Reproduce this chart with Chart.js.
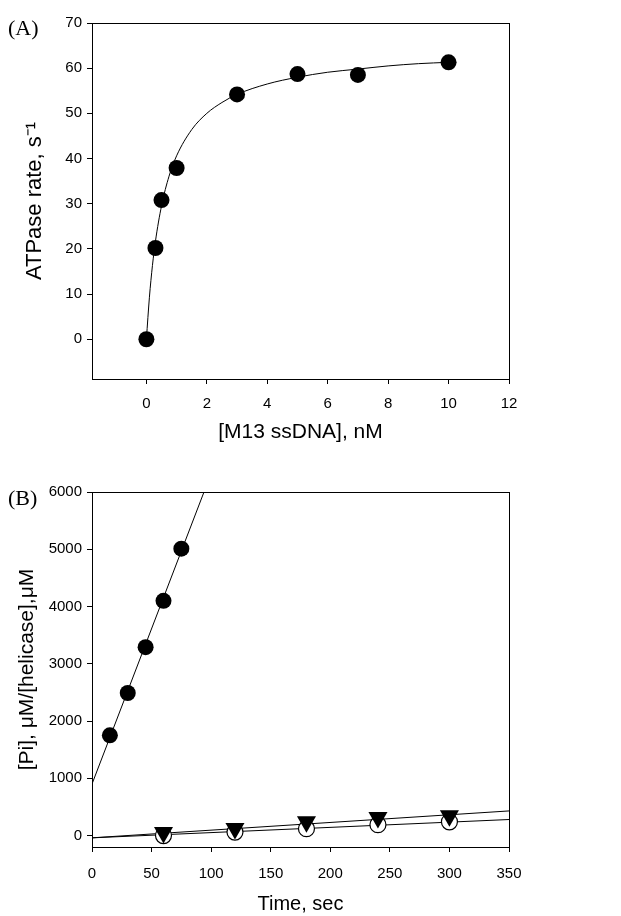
<!DOCTYPE html>
<html>
<head>
<meta charset="utf-8">
<script src="https://cdn.jsdelivr.net/npm/chart.js@4.4.1/dist/chart.umd.min.js"></script>
<style>
  html, body { margin: 0; padding: 0; background: #fff; }
  body { width: 621px; height: 916px; position: relative; overflow: hidden; }
  .panel { position: absolute; left: 0; width: 621px; }
  .tag { position: absolute; left: 8px; font: 22px/22px "Liberation Serif", serif; color: #000; }
</style>
</head>
<body>
<div class="panel" style="top:0;height:446px"><canvas id="chart-a" width="621" height="446"></canvas></div>
<div class="panel" style="top:446px;height:470px"><canvas id="chart-b" width="621" height="470"></canvas></div>
<div class="tag" style="top:17px">(A)</div>
<div class="tag" style="top:487px">(B)</div>
<script>
// (A) ATPase rate vs [M13 ssDNA]
const dnaNM = [0, 0.3, 0.5, 1, 3, 5, 7, 10];
const atpaseRate = [0, 20.2, 30.8, 37.9, 54.2, 58.7, 58.5, 61.3];
// fitted curve
const fitDnaNM = [0, 0.1, 0.2, 0.3, 0.5, 0.75, 1, 1.5, 2, 2.5, 3, 4, 5, 6, 7, 8, 9, 10];
const fitRate = [0, 9.3, 16.3, 21.7, 29.5, 36.1, 40.6, 46.4, 50.0, 52.4, 54.2, 56.5, 58.0, 59.1, 59.8, 60.5, 61.0, 61.3];
const ticksAx = [0, 2, 4, 6, 8, 10, 12];
const ticksAy = [0, 10, 20, 30, 40, 50, 60, 70];

// (B) [Pi] vs time
const timeFast = [15, 30, 45, 60, 75];
const piFast = [1750, 2490, 3290, 4100, 5010];
const timeSlow = [60, 120, 180, 240, 300];
const piTriangle = [55, 125, 240, 315, 345];
const piOpen = [0, 60, 120, 190, 240];
const fitFastT = [0, 94];
const fitFastPi = [900, 6000];
const fitSlowT = [0, 350];
const fitTrianglePi = [-40, 430];
const fitOpenPi = [-40, 280];
const ticksBx = [0, 50, 100, 150, 200, 250, 300, 350];
const ticksBy = [0, 1000, 2000, 3000, 4000, 5000, 6000];

const FONT = '"Liberation Sans", Arial, sans-serif';

const pairs = (xs, ys) => xs.map((x, i) => ({ x: x, y: ys[i] }));

const frame = {
    id: 'frame',
    afterDatasetsDraw(chart) {
        const { ctx, chartArea: a } = chart;
        ctx.save();
        ctx.strokeStyle = '#000';
        ctx.lineWidth = 1;
        ctx.strokeRect(Math.round(a.left) + 0.5, Math.round(a.top) + 0.5,
            Math.round(a.right - a.left), Math.round(a.bottom - a.top));
        ctx.restore();
    }
};

function axis(min, max, tickValues, size, title, titleSize, titlePad, tickPad) {
    return {
        type: 'linear',
        min: min,
        max: max,
        afterBuildTicks: s => { s.ticks = tickValues.map(v => ({ value: v })); },
        afterFit: s => {
            if (s.isHorizontal()) s.height = size; else s.width = size;
        },
        border: { display: false },
        grid: { drawOnChartArea: false, tickLength: 5, tickColor: '#000', lineWidth: 1 },
        ticks: {
            color: '#000',
            font: { family: FONT, size: 15 },
            padding: tickPad,
            autoSkip: false,
            maxRotation: 0,
            callback: v => String(v)
        },
        title: {
            display: true,
            text: title,
            color: '#000',
            font: { family: FONT, size: titleSize, lineHeight: 1 },
            padding: titlePad
        }
    };
}

function lineSet(xs, ys) {
    return {
        data: pairs(xs, ys),
        showLine: true,
        borderColor: '#000',
        borderWidth: 1,
        pointRadius: 0,
        cubicInterpolationMode: 'monotone'
    };
}

function baseOptions(pad, scales) {
    return {
        responsive: false,
        animation: false,
        layout: { padding: pad },
        plugins: { legend: { display: false }, tooltip: { enabled: false } },
        scales: scales
    };
}

new Chart(document.getElementById('chart-a').getContext('2d'), {
    type: 'scatter',
    data: {
        datasets: [
            {
                data: pairs(dnaNM, atpaseRate),
                pointRadius: 8,
                backgroundColor: '#000',
                borderColor: '#000',
                borderWidth: 0
            },
            lineSet(fitDnaNM, fitRate)
        ]
    },
    options: baseOptions({ top: 23, right: 112, left: 0, bottom: 0 }, {
        x: axis(-1.8, 12, ticksAx, 67, '[M13 ssDNA], nM', 21, { top: 0, bottom: 3 }, 11),
        y: axis(-8.8, 70, ticksAy, 92, 'ATPase rate, s\u207B\u00B9', 22, { top: 24, bottom: 0 }, 5)
    }),
    plugins: [frame]
});

new Chart(document.getElementById('chart-b').getContext('2d'), {
    type: 'scatter',
    data: {
        datasets: [
            {
                data: pairs(timeSlow, piTriangle),
                pointStyle: 'triangle',
                rotation: 180,
                pointRadius: 11,
                backgroundColor: '#000',
                borderColor: '#000',
                borderWidth: 0
            },
            {
                data: pairs(timeFast, piFast),
                pointRadius: 8,
                backgroundColor: '#000',
                borderColor: '#000',
                borderWidth: 0
            },
            {
                data: pairs(timeSlow, piOpen),
                pointRadius: 8,
                backgroundColor: '#fff',
                borderColor: '#000',
                borderWidth: 1.2
            },
            lineSet(fitFastT, fitFastPi),
            lineSet(fitSlowT, fitTrianglePi),
            lineSet(fitSlowT, fitOpenPi)
        ]
    },
    options: baseOptions({ top: 46, right: 112, left: 0, bottom: 0 }, {
        x: axis(0, 350, ticksBx, 69, 'Time, sec', 20, { top: 0, bottom: 2 }, 13),
        y: axis(-200, 6000, ticksBy, 92, '[Pi], \u03BCM/[helicase],\u03BCM', 21, { top: 16.5, bottom: 0 }, 5)
    }),
    plugins: [frame]
});
</script>
</body>
</html>
